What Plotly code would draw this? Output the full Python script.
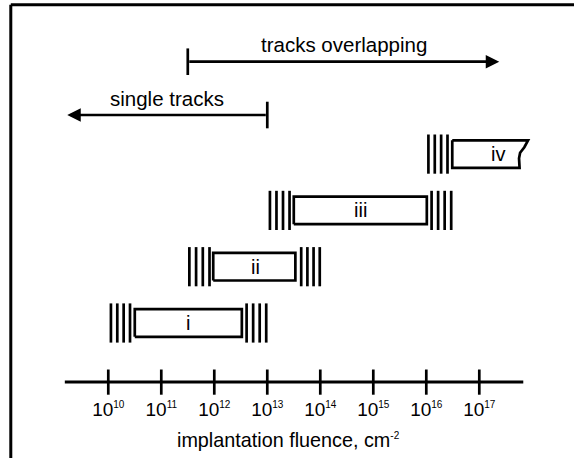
import numpy as np
import plotly.graph_objects as go

# ---------------- data ----------------
row_labels = ["i", "ii", "iii", "iv"]
row_level = [1, 2, 3, 4]
box_start = [10.50, 11.98, 13.50, 16.49]
box_end = [12.52, 13.53, 16.01, 17.92]
left_zone_start = [10.05, 11.53, 13.05, 16.04]
left_zone_end = [10.41, 11.91, 13.42, 16.40]
right_zone_start = [12.61, 13.64, 16.10, None]
right_zone_end = [12.98, 13.99, 16.47, None]
label_pos = [11.51, 12.77, 14.75, 17.36]

decades = [10, 11, 12, 13, 14, 15, 16, 17]
tick_text = ["10<sup><span style='font-size:10px'>%d</span></sup>" % d for d in decades]

axis_min, axis_max = 9.18, 17.83
axis_level = -0.05

single_tick, single_tip, single_level = 13.0, 9.226, 4.694
overlap_tick, overlap_tip, overlap_level = 11.5, 17.377, 5.641
single_text_x, single_text_y = 11.10, 4.99
overlap_text_x, overlap_text_y = 14.45, 5.955

# ---------------- style ----------------
FONT = "Liberation Sans, Arial, sans-serif"
BLACK = "#000000"
H = 0.245          # half height of boxes (row units)
BOX_PX = 28        # hatch line length in px
LW = 2.7

fig = go.Figure()

# boxes
for i, lvl in enumerate(row_level):
    s, e = box_start[i], box_end[i]
    if row_labels[i] == "iv":
        jag_dx = [0, -0.07, -0.15, -0.17, -0.16]
        jag_fy = [0, 0.25, 0.45, 0.65, 1.0]
        xs = [s] + [e + d for d in jag_dx] + [s, s]
        ys = [lvl + H] + [lvl + H - 2 * H * f for f in jag_fy] + [lvl - H, lvl + H]
    else:
        xs = [s, e, e, s, s]
        ys = [lvl - H, lvl - H, lvl + H, lvl + H, lvl - H]
    fig.add_trace(go.Scatter(x=xs, y=ys, mode="lines", fill="toself",
                             fillcolor="white", line=dict(color=BLACK, width=LW),
                             hoverinfo="skip", showlegend=False))

# hatch (transition) zones
hx, hy = [], []
for i, lvl in enumerate(row_level):
    for a, b in [(left_zone_start[i], left_zone_end[i]), (right_zone_start[i], right_zone_end[i])]:
        if a is None:
            continue
        for x in np.linspace(a, b, 4):
            hx.append(x)
            hy.append(lvl)
fig.add_trace(go.Scatter(x=hx, y=hy, mode="markers",
                         marker=dict(symbol="line-ns", size=BOX_PX, line=dict(color=BLACK, width=2.7)),
                         hoverinfo="skip", showlegend=False, cliponaxis=False))

# box labels
for i, lvl in enumerate(row_level):
    fig.add_annotation(x=label_pos[i], y=lvl, text=row_labels[i], showarrow=False,
                       font=dict(family=FONT, size=20, color=BLACK), xanchor="center", yanchor="middle")

# axis line + ticks
fig.add_trace(go.Scatter(x=[axis_min, axis_max], y=[axis_level, axis_level], mode="lines",
                         line=dict(color=BLACK, width=3), hoverinfo="skip", showlegend=False))
fig.add_trace(go.Scatter(x=decades, y=[axis_level] * len(decades), mode="markers",
                         marker=dict(symbol="line-ns", size=18, line=dict(color=BLACK, width=LW)),
                         hoverinfo="skip", showlegend=False, cliponaxis=False))

# arrows
for tick, tip, lvl in [(single_tick, single_tip, single_level), (overlap_tick, overlap_tip, overlap_level)]:
    fig.add_annotation(x=tip, y=lvl, ax=tick, ay=lvl, xref="x", yref="y", axref="x", ayref="y",
                       text="", showarrow=True, arrowhead=2, arrowsize=1, arrowwidth=LW,
                       arrowcolor=BLACK)
fig.add_trace(go.Scatter(x=[single_tick, overlap_tick], y=[single_level, overlap_level], mode="markers",
                         marker=dict(symbol="line-ns", size=19, line=dict(color=BLACK, width=LW)),
                         hoverinfo="skip", showlegend=False, cliponaxis=False))

fig.add_annotation(x=single_text_x, y=single_text_y, text="single tracks", showarrow=False,
                   font=dict(family=FONT, size=20.5, color=BLACK), yanchor="middle")
fig.add_annotation(x=overlap_text_x, y=overlap_text_y, text="tracks overlapping", showarrow=False,
                   font=dict(family=FONT, size=20.5, color=BLACK), yanchor="middle")

# axis title
fig.add_annotation(x=13.40, y=-0.1224, xref="x", yref="paper", yanchor="middle",
                   text="implantation fluence, cm<sup><span style='font-size:10px'>-2</span></sup>",
                   showarrow=False, font=dict(family=FONT, size=19.8, color=BLACK))

# frame border (top and left)
fig.add_shape(type="line", xref="paper", yref="paper", x0=0.0188, x1=1.01, y0=0.988, y1=0.988,
              line=dict(color=BLACK, width=3))
fig.add_shape(type="line", xref="paper", yref="paper", x0=0.0188, x1=0.0188, y0=0.988, y1=-0.2,
              line=dict(color=BLACK, width=3))

fig.update_layout(
    width=574, height=458,
    margin=dict(l=0, r=0, t=0, b=66),
    paper_bgcolor="white", plot_bgcolor="white",
    hovermode=False,
    xaxis=dict(range=[7.957, 18.787], tickvals=decades, ticktext=tick_text,
               showgrid=False, zeroline=False, showline=False, ticks="",
               ticklabelstandoff=4,
               tickfont=dict(family=FONT, size=19, color=BLACK), fixedrange=True),
    yaxis=dict(range=[-0.2256, 6.737], visible=False, fixedrange=True),
)

fig.write_html("out.html", config={"displayModeBar": False},
               post_script="document.body.style.margin='0';document.body.style.overflow='hidden';")
